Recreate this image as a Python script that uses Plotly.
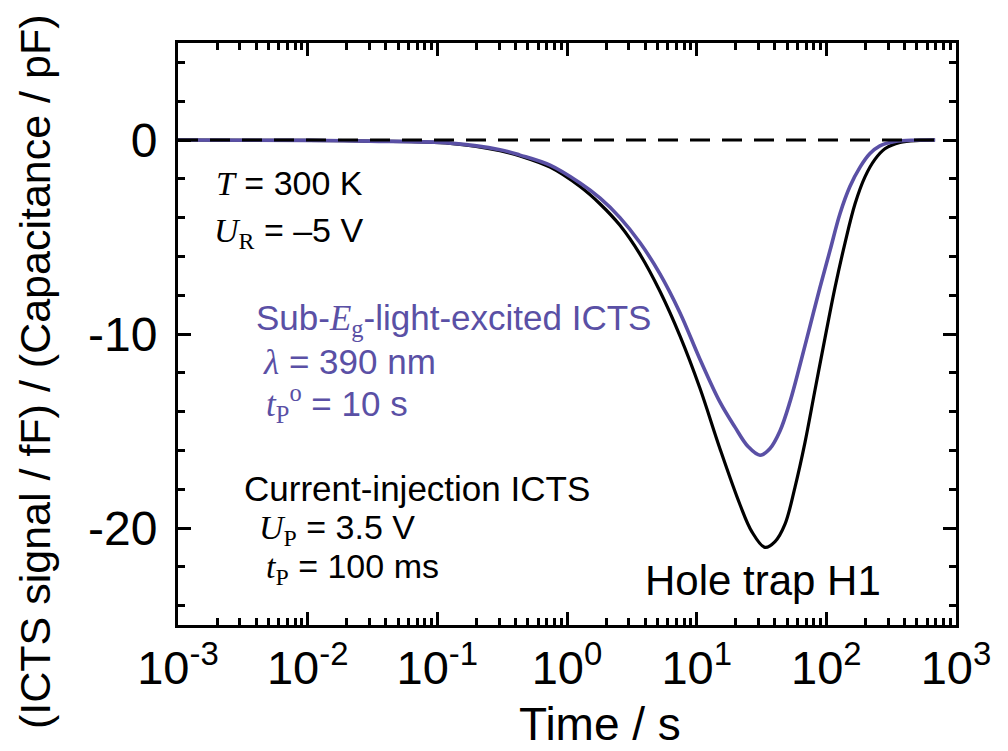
import plotly.graph_objects as go

# ---- data (time in s, signal in fF/pF) ----
black_t = [0.001, 0.01, 0.03, 0.126, 0.304, 0.434, 0.74, 1.26, 1.80, 2.56, 3.66, 5.21, 7.43, 10.6, 15.1,
           21.6, 26.7, 33.6, 40.2, 48.0, 57.3, 68.4, 81.7, 97.7, 116.7, 139.4, 166.3, 198.6, 237, 283, 370, 527, 690]
black_v = [0, -0.02, -0.06, -0.17, -0.55, -0.82, -1.4, -2.4, -3.3, -4.4, -5.9, -7.8, -10.1, -12.8, -15.9,
           -18.8, -20.2, -21.0, -20.7, -19.8, -17.9, -15.6, -12.9, -10.2, -7.6, -5.3, -3.3, -1.9, -1.0, -0.45, -0.12, -0.02, 0]

purple_t = [0.001, 0.01, 0.03, 0.126, 0.304, 0.434, 0.74, 1.26, 1.80, 2.56, 3.66, 5.21, 7.43, 10.6, 15.1,
            19.75, 24.9, 30.8, 36.8, 43.9, 52.4, 62.6, 74.8, 89.3, 106.7, 127.4, 152, 182, 217, 259, 338, 483, 690]
purple_v = [0, -0.02, -0.06, -0.16, -0.5, -0.78, -1.3, -2.22, -3.0, -4.0, -5.3, -6.9, -8.9, -11.3, -13.5,
            -14.8, -15.8, -16.25, -15.9, -15.0, -13.5, -11.6, -9.6, -7.6, -5.7, -3.8, -2.4, -1.4, -0.7, -0.3, -0.08, -0.01, 0]

zero_t = [0.001, 700]
zero_v = [0, 0]

x_tickvals = [1e-3, 1e-2, 1e-1, 1e0, 1e1, 1e2, 1e3]
x_ticktext = ["10<sup>-3</sup>", "10<sup>-2</sup>", "10<sup>-1</sup>", "10<sup>0</sup>",
              "10<sup>1</sup>", "10<sup>2</sup>", "10<sup>3</sup>"]
x_minor = [k * 10.0 ** n for n in range(-3, 3) for k in range(2, 10)]
y_tickvals = [0, -10, -20]
y_ticktext = ["0", "-10", "-20"]

PURPLE = "#5a50a5"
FONT = "Liberation Sans, Arial, sans-serif"
SERIF = "Liberation Serif"

W, H = 1008, 751
L, R, T, B = 178, 52, 43, 126


def px(x):
    return (x - L) / (W - L - R)


def py(y):
    return (H - B - y) / (H - T - B)


def it(s):
    return f"<span style=\"font-family:'{SERIF}'\"><i>{s}</i></span>"


def sr(s):
    return f"<span style=\"font-family:'{SERIF}'\">{s}</span>"


fig = go.Figure()
fig.add_trace(go.Scatter(x=black_t, y=black_v, mode="lines", line=dict(color="black", width=3.2, shape="spline", smoothing=1.0),
                         showlegend=False, hoverinfo="skip"))
fig.add_trace(go.Scatter(x=purple_t, y=purple_v, mode="lines", line=dict(color=PURPLE, width=3.6, shape="spline", smoothing=1.0),
                         showlegend=False, hoverinfo="skip"))
fig.add_trace(go.Scatter(x=zero_t, y=zero_v, mode="lines", line=dict(color="black", width=3, dash="20px,12px"),
                         showlegend=False, hoverinfo="skip"))

annots = [
    (it("T") + " = 300 K", 214, 183, "black", 34),
    (it("U") + "<sub>" + sr("R") + "</sub> = \u20135 V", 212, 233, "black", 34),
    ("Sub-" + it("E") + "<sub>" + sr("g") + "</sub>-light-excited ICTS", 254, 320, PURPLE, 35),
    (it("\u03bb") + " = 390 nm", 261, 362, PURPLE, 35),
    (it("t") + "<sub>" + sr("P") + "</sub><sup>" + sr("o") + "</sup> = 10 s", 264, 403, PURPLE, 35),
    ("Current-injection ICTS", 242, 489, "black", 35),
    (it("U") + "<sub>" + sr("P") + "</sub> = 3.5 V", 257, 529, "black", 34),
    (it("t") + "<sub>" + sr("P") + "</sub> = 100 ms", 264, 568, "black", 34),
    ("Hole trap H1", 643, 580, "black", 42),
]
for text, x, y, col, size in annots:
    fig.add_annotation(text=text, x=px(x), y=py(y), xref="paper", yref="paper", xanchor="left", yanchor="middle",
                       showarrow=False, font=dict(family=FONT, size=size, color=col))

fig.add_annotation(text="Time / s", x=px(600), y=py(724), xref="paper", yref="paper", xanchor="center", yanchor="middle",
                   showarrow=False, font=dict(family=FONT, size=46, color="black"))
fig.add_annotation(text="(ICTS signal / fF) / (Capacitance / pF)", x=px(35), y=py(372), xref="paper", yref="paper",
                   xanchor="center", yanchor="middle", textangle=-90, showarrow=False,
                   font=dict(family=FONT, size=43, color="black"))

fig.update_layout(
    width=W, height=H, autosize=False,
    margin=dict(l=L, r=R, t=T, b=B),
    paper_bgcolor="white", plot_bgcolor="white",
    font=dict(family=FONT, color="black"),
    xaxis=dict(type="log", range=[-3, 3], tickvals=x_tickvals, ticktext=x_ticktext,
               ticks="inside", ticklen=13, tickwidth=3, tickcolor="black",
               showline=True, linewidth=3, linecolor="black", mirror="ticks",
               showgrid=False, zeroline=False, tickfont=dict(size=47, family=FONT),
               ticklabelstandoff=0,
               minor=dict(tickvals=x_minor, ticks="inside", ticklen=7, tickwidth=2.5, tickcolor="black", showgrid=False)),
    yaxis=dict(range=[-25, 5], tickvals=y_tickvals, ticktext=y_ticktext,
               ticks="inside", ticklen=13, tickwidth=3, tickcolor="black",
               showline=True, linewidth=3, linecolor="black", mirror="ticks",
               showgrid=False, zeroline=False, tickfont=dict(size=48, family=FONT),
               ticklabelstandoff=8,
               minor=dict(dtick=2, tick0=0, ticks="inside", ticklen=7, tickwidth=2.5, tickcolor="black", showgrid=False)),
)

fig.write_html("out.html")
